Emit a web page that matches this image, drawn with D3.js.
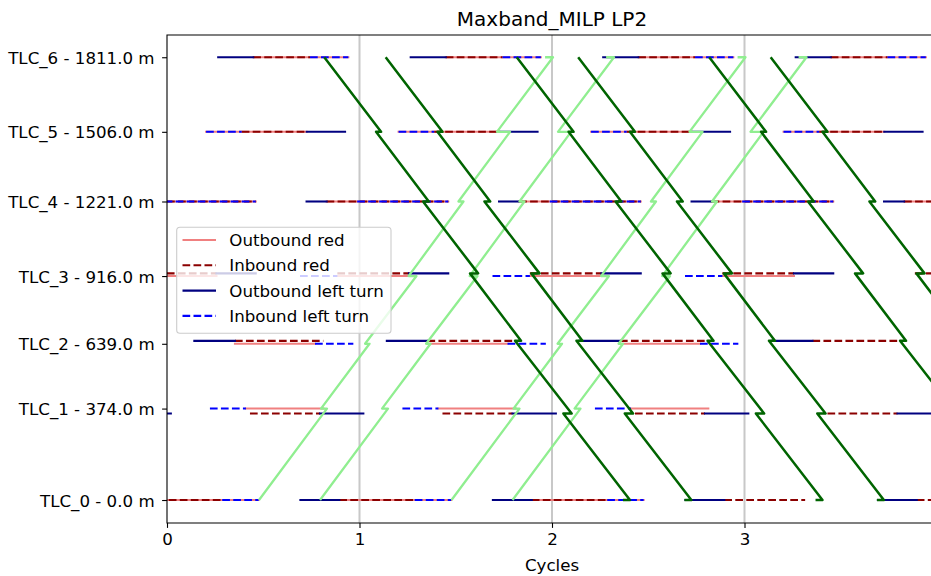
<!DOCTYPE html>
<html>
<head>
<meta charset="utf-8">
<script src="https://cdn.jsdelivr.net/npm/d3@7"></script>
<style>
  body { margin: 0; background: #fff; }
  svg { display: block; font-family: "DejaVu Sans", sans-serif; }
</style>
</head>
<body>
<script>
// intersections
var tlcNames = ["TLC_0", "TLC_1", "TLC_2", "TLC_3", "TLC_4", "TLC_5", "TLC_6"];
var tlcDist = [0, 374, 639, 916, 1221, 1506, 1811];
// inbound stop line position (used by inbound red, outbound left turn, inbound band)
var inDist = [0, 354, 651, 927, 1221, 1506, 1811];

// base interval in cycles (cycle 0) and first/last cycle drawn, one per TLC
var outRed      = [[0.895, 1.476], [0.410, 0.812], [0.353, 0.769], [0.885, 1.257], [0.829, 1.461], [0.203, 0.726], [0.448, 0.942]];
var outRedCyc   = [[-1, 1], [0, 2], [0, 2], [-1, 2], [-1, 3], [0, 3], [0, 3]];
var inRed       = [[0.895, 1.315], [0.431, 0.795], [0.353, 0.812], [0.885, 1.257], [0.829, 1.461], [0.388, 0.726], [0.448, 0.743]];
var inRedCyc    = [[-1, 3], [0, 3], [0, 3], [-1, 3], [-1, 3], [0, 3], [0, 3]];
var outLeft     = [[0.693, 0.895], [0.795, 1.020], [0.142, 0.353], [1.257, 1.461], [0.725, 0.829], [0.726, 0.925], [0.266, 0.448]];
var outLeftCyc  = [[0, 3], [-1, 3], [0, 3], [-1, 2], [0, 3], [0, 3], [0, 3]];
var inLeft      = [[0.287, 0.476], [0.223, 0.410], [0.769, 0.968], [0.691, 0.885], [0.988, 1.461], [0.203, 0.388], [0.743, 0.942]];
var inLeftCyc   = [[0, 2], [0, 2], [0, 2], [0, 2], [-1, 2], [0, 3], [0, 3]];

// green bands: arrival / departure time at each TLC (cycles), lower edge, cycle 0
var outArrive = [null, 0.831, 1.052, 1.296, 1.540, 1.782, 2.005];
var outDepart = [0.478, 0.800, 1.029, 1.255, 1.514, 1.714, 1.964];
var outWidth = 0.317;
var outCycles = [0, 1];
var inArrive = [2.405, 2.102, 1.839, 1.616, 1.360, 1.112, null];
var inDepart = [2.369, 2.059, 1.808, 1.574, 1.330, 1.086, 0.817];
var inWidth = 0.319;
var inCycles = [0, 1, 2];

var xTicks = [0, 1, 2, 3];

var W = 931, H = 576;
var L = 167, T = 35, R = 937, B = 523;

var svg = d3.select("body").append("svg").attr("width", W).attr("height", H);

var x = d3.scaleLinear().domain([0, 4]).range([L, R]);
var y = d3.scaleLinear().domain([-94, 1902]).range([B, T]);

svg.append("defs").append("clipPath").attr("id", "plot")
  .append("rect").attr("x", L).attr("y", T).attr("width", R - L).attr("height", B - T);

var g = svg.append("g").attr("clip-path", "url(#plot)");

// vertical grid at cycle boundaries
g.selectAll("line.grid").data(xTicks.filter(function(d){ return d > 0; })).enter()
  .append("line")
  .attr("x1", function(d){ return x(d); }).attr("x2", function(d){ return x(d); })
  .attr("y1", T).attr("y2", B)
  .attr("stroke", "#c8c8c8").attr("stroke-width", 2);

var series = [
  {iv: outRed, cyc: outRedCyc, dist: tlcDist, color: "#f08080", dash: null},
  {iv: inRed, cyc: inRedCyc, dist: inDist, color: "#8b0000", dash: "7.7,3.3"},
  {iv: outLeft, cyc: outLeftCyc, dist: inDist, color: "#000080", dash: null},
  {iv: inLeft, cyc: inLeftCyc, dist: tlcDist, color: "#0000ff", dash: "7.7,3.3"}
];

series.forEach(function(s){
  var segs = [];
  s.iv.forEach(function(iv, i){
    for (var k = s.cyc[i][0]; k <= s.cyc[i][1]; k++) {
      segs.push({a: iv[0] + k, b: iv[1] + k, d: s.dist[i]});
    }
  });
  g.append("g").selectAll("line").data(segs).enter().append("line")
    .attr("x1", function(d){ return x(d.a); })
    .attr("x2", function(d){ return x(d.b); })
    .attr("y1", function(d){ return y(d.d); })
    .attr("y2", function(d){ return y(d.d); })
    .attr("stroke", s.color)
    .attr("stroke-width", 2.08)
    .attr("stroke-linecap", s.dash ? "butt" : "square")
    .attr("stroke-dasharray", s.dash);
});

var line = d3.line().x(function(p){ return x(p[0]); }).y(function(p){ return y(p[1]); });

// outbound band (light green) goes up
function outPath(shift){
  var pts = [[outDepart[0] + shift, tlcDist[0]]];
  for (var i = 1; i < tlcDist.length; i++) {
    pts.push([outArrive[i] + shift, tlcDist[i]]);
    pts.push([outDepart[i] + shift, tlcDist[i]]);
  }
  return pts;
}
// inbound band (dark green) goes down
function inPath(shift){
  var n = inDist.length - 1;
  var pts = [[inDepart[n] + shift, inDist[n]]];
  for (var i = n - 1; i >= 0; i--) {
    pts.push([inArrive[i] + shift, inDist[i]]);
    pts.push([inDepart[i] + shift, inDist[i]]);
  }
  return pts;
}

outCycles.forEach(function(k){
  [0, outWidth].forEach(function(w){
    g.append("path").attr("d", line(outPath(k + w)))
      .attr("fill", "none").attr("stroke", "#90ee90").attr("stroke-width", 2.3)
      .attr("stroke-linejoin", "round");
  });
});
inCycles.forEach(function(k){
  [0, inWidth].forEach(function(w){
    g.append("path").attr("d", line(inPath(k + w)))
      .attr("fill", "none").attr("stroke", "#006400").attr("stroke-width", 2.5)
      .attr("stroke-linejoin", "round");
  });
});

// axes
var xAxis = svg.append("g").attr("transform", "translate(0," + B + ")")
  .call(d3.axisBottom(x).tickValues(xTicks).tickFormat(d3.format("d")).tickSize(4.9).tickPadding(4.9).tickSizeOuter(0));
var yAxis = svg.append("g").attr("transform", "translate(" + L + ",0)")
  .call(d3.axisLeft(y).tickValues(tlcDist)
    .tickFormat(function(d, i){ return tlcNames[i] + " - " + d.toFixed(1) + " m"; })
    .tickSize(4.9).tickPadding(7.5).tickSizeOuter(0));
[xAxis, yAxis].forEach(function(a){
  a.select(".domain").remove();
  a.selectAll("line").attr("stroke", "#000").attr("stroke-width", 1.1);
  a.selectAll("text").attr("fill", "#000").style("font-size", "16.67px").style("font-family", "DejaVu Sans");
});
yAxis.selectAll("text").attr("dy", "0.36em");
xAxis.selectAll("text").attr("dy", "0.74em");

// spines
svg.append("path")
  .attr("d", "M" + R + "," + T + "H" + L + "V" + B + "H" + R)
  .attr("fill", "none").attr("stroke", "#000").attr("stroke-width", 1.1);

svg.append("text").attr("x", (L + R) / 2).attr("y", 26).attr("text-anchor", "middle")
  .style("font-size", "20px").text("Maxband_MILP LP2");
svg.append("text").attr("x", (L + R) / 2).attr("y", 571).attr("text-anchor", "middle")
  .style("font-size", "16.67px").text("Cycles");

// legend
var legendItems = [
  {label: "Outbound red", color: "#f08080", dash: null},
  {label: "Inbound red", color: "#8b0000", dash: "7.7,3.3"},
  {label: "Outbound left turn", color: "#000080", dash: null},
  {label: "Inbound left turn", color: "#0000ff", dash: "7.7,3.3"}
];
var lg = svg.append("g");
lg.append("rect").attr("x", 176.7).attr("y", 227.3).attr("width", 214.3).attr("height", 106)
  .attr("rx", 3.3).attr("fill", "#fff").attr("fill-opacity", 0.8)
  .attr("stroke", "#cccccc").attr("stroke-width", 1.1);
legendItems.forEach(function(d, i){
  var cy = 240 + i * 25.3;
  lg.append("line").attr("x1", 182.5).attr("x2", 216).attr("y1", cy).attr("y2", cy)
    .attr("stroke", d.color).attr("stroke-width", 2.08).attr("stroke-dasharray", d.dash);
  lg.append("text").attr("x", 229.3).attr("y", cy).attr("dy", "0.36em")
    .style("font-size", "16.67px").attr("fill", "#000").text(d.label);
});
</script>
</body>
</html>
